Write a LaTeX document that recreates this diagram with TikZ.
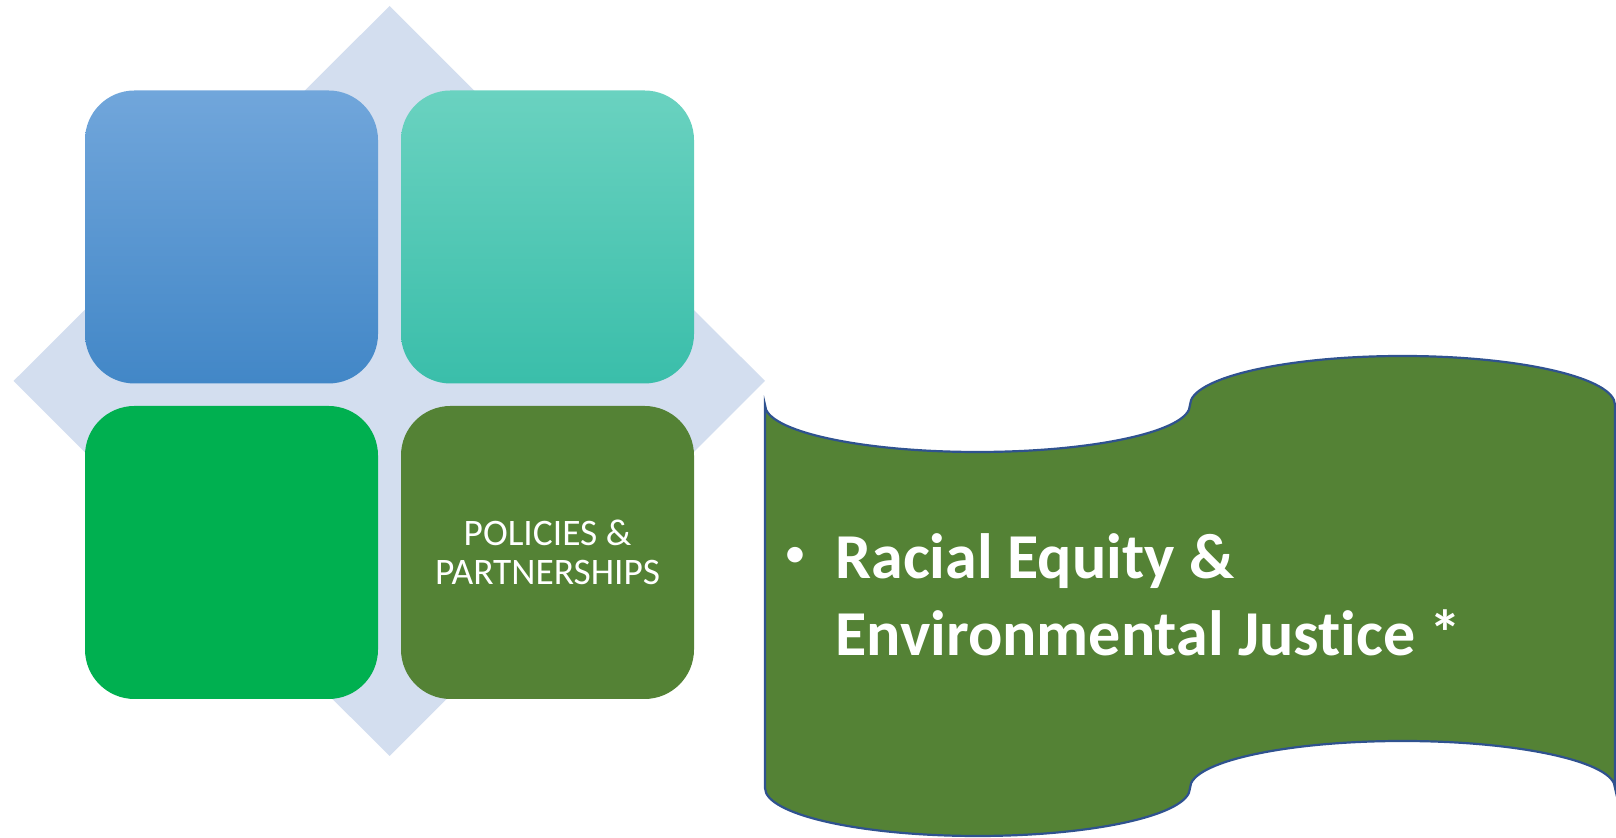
\documentclass[tikz,border=0pt]{standalone}
\usepackage{fontspec}
\setmainfont{Carlito}[Ligatures=NoCommon]
\usepackage{xcolor}
\usepackage{tikz}

\definecolor{diamondblue}{HTML}{D3DEEF}
\definecolor{bluetop}{HTML}{71A6DB}
\definecolor{bluebot}{HTML}{4287C7}
\definecolor{tealtop}{HTML}{6AD2C0}
\definecolor{tealbot}{HTML}{3ABEAA}
\definecolor{brightgreen}{HTML}{00B050}
\definecolor{leafgreen}{HTML}{548235}
\definecolor{edgeblue}{HTML}{2F528F}

\tikzset{
    tile/.style={rounded corners=24.75pt,minimum width=146.5pt,minimum height=146.5pt,inner sep=0pt},
    tiletext/.style={text=white,align=center,font=\fontsize{18.7}{19.5}\selectfont}
}

\begin{document}
\begin{tikzpicture}[x=0.5pt,y=0.5pt]
    \useasboundingbox (0,0) rectangle (1616,838);

    \fill[diamondblue] (389.6,832) -- (765,457) -- (389.6,82) -- (13.5,457) -- cycle;

    \node[tile,top color=bluetop,bottom color=bluebot] (plan) at (231.5,601) {};
    \node[tile,top color=tealtop,bottom color=tealbot] (people) at (547.5,601) {};
    \node[tile,fill=brightgreen] (place) at (231.5,285.5) {};
    \node[tile,fill=leafgreen,tiletext] (policies) at (547.5,285.5) {POLICIES \&\\PARTNERSHIPS};

    \draw[edgeblue,line width=1.1pt,fill=leafgreen] (765,433)
        arc[start angle=180,end angle=360,x radius=212.5,y radius=47]
        arc[start angle=180,end angle=0,x radius=212.5,y radius=49]
        -- (1615,50)
        arc[start angle=0,end angle=180,x radius=212.5,y radius=47]
        arc[start angle=360,end angle=180,x radius=212.5,y radius=48]
        -- cycle;

    \node[text=white,inner sep=0pt,font=\fontsize{22}{22}\selectfont] (dot) at (795,280.5) {\textbullet};
    \node[text=white,anchor=base west,inner sep=0pt,align=left,font=\fontsize{32}{38.5}\selectfont\bfseries] (justice) at (835,182) {Racial Equity \&\\Environmental Justice *};
\end{tikzpicture}
\end{document}
